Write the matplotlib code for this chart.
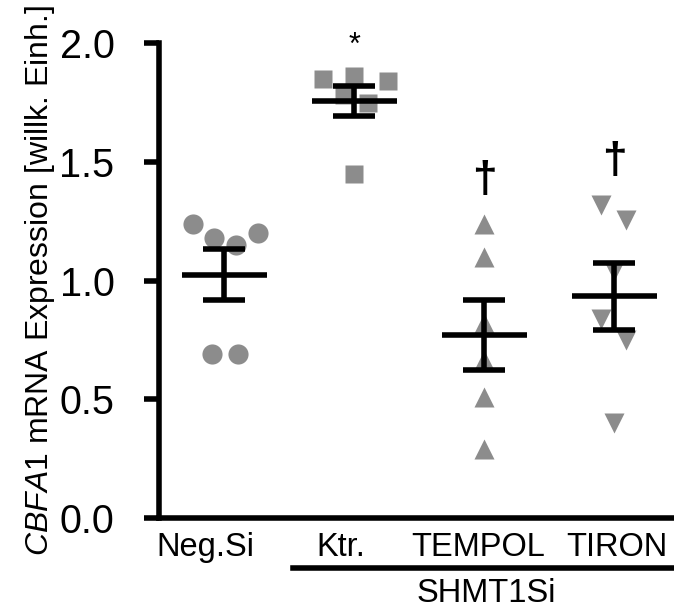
import numpy as np
import matplotlib
matplotlib.use("Agg")
import matplotlib.pyplot as plt
import matplotlib.transforms as mtransforms

plt.rcParams['font.family'] = ['Liberation Sans', 'DejaVu Sans']
plt.rcParams['mathtext.fontset'] = 'custom'
plt.rcParams['mathtext.rm'] = 'Liberation Sans'
plt.rcParams['mathtext.it'] = 'Liberation Sans:italic'

# data
groups = ['Neg.Si', 'Ktr.', 'TEMPOL', 'TIRON']
neg_si = [1.24, 1.18, 1.15, 1.20, 0.69, 0.69]
ktr = [1.85, 1.86, 1.84, 1.75, 1.45, 1.78]
tempol = [1.24, 1.10, 0.82, 0.665, 0.51, 0.29]
tiron = [1.32, 1.255, 1.04, 0.84, 0.75, 0.40]
marks = ['', '*', '\u2020', '\u2020']
mark_y = [None, 1.99, 1.42, 1.50]

# horizontal scatter of the points inside each group
offsets = [
    [-0.24, -0.08, 0.09, 0.26, -0.09, 0.11],
    [-0.24, 0.0, 0.26, 0.11, 0.0, -0.08],
    [0.0, 0.0, 0.0, 0.0, 0.0, 0.0],
    [-0.10, 0.09, 0.0, -0.10, 0.09, 0.0],
]
# category labels are not quite centred on the groups
label_x = [-0.146, 0.90, 1.954, 3.023]
markers = ['o', 's', '^', 'v']
msizes = [14.5, 13, 14, 14]
gray = '#8c8c8c'
lw = 4.0

fig = plt.figure(figsize=(6.74, 6.08), dpi=100)
ax = fig.add_axes([0.236, 0.148, 0.764, 0.781])

series = [neg_si, ktr, tempol, tiron]
for i, vals in enumerate(series):
    x = i + np.array(offsets[i])
    ax.plot(x, vals, linestyle='none', marker=markers[i], ms=msizes[i],
            color=gray, mec='none', zorder=2)
    v = np.array(vals)
    m = v.mean()
    sem = v.std(ddof=1) / np.sqrt(len(v))
    ax.plot([i - 0.327, i + 0.327], [m, m], color='black', lw=lw,
            solid_capstyle='butt', zorder=3)
    ax.errorbar(i, m, yerr=sem, color='black', lw=lw, capsize=15,
                capthick=lw, zorder=3)
    if marks[i] == '*':
        ax.text(i, mark_y[i], marks[i], ha='center', va='center',
                fontsize=22, clip_on=False)
    elif marks[i]:
        ax.text(i, mark_y[i], marks[i], ha='center', va='center',
                fontsize=32, fontweight='bold', clip_on=False)

ax.set_xlim(-0.5, 3.46)
ax.set_ylim(0, 2.0)
ax.set_yticks([0.0, 0.5, 1.0, 1.5, 2.0])
ax.set_yticklabels(['0.0', '0.5', '1.0', '1.5', '2.0'])
ax.set_xticks(label_x)
ax.set_xticklabels(groups)

for s in ['top', 'right']:
    ax.spines[s].set_visible(False)
for s in ['left', 'bottom']:
    ax.spines[s].set_linewidth(lw)
ax.tick_params(axis='y', length=11, width=lw, labelsize=28.5, pad=21)
ax.tick_params(axis='x', length=0, labelsize=23.5, pad=10)

ax.set_ylabel(r'$\it{CBFA1}$ mRNA Expression [willk. Einh.]', fontsize=23,
              labelpad=2)

# group bracket under the SHMT1Si conditions
trans = mtransforms.blended_transform_factory(ax.transData, ax.transAxes)
ax.plot([0.53, 3.46], [-0.105, -0.105], color='black', lw=lw,
        transform=trans, clip_on=False)
ax.text(2.02, -0.158, 'SHMT1Si', ha='center', va='center', fontsize=23.5,
        transform=trans)

fig.savefig('out.png', dpi=100)
